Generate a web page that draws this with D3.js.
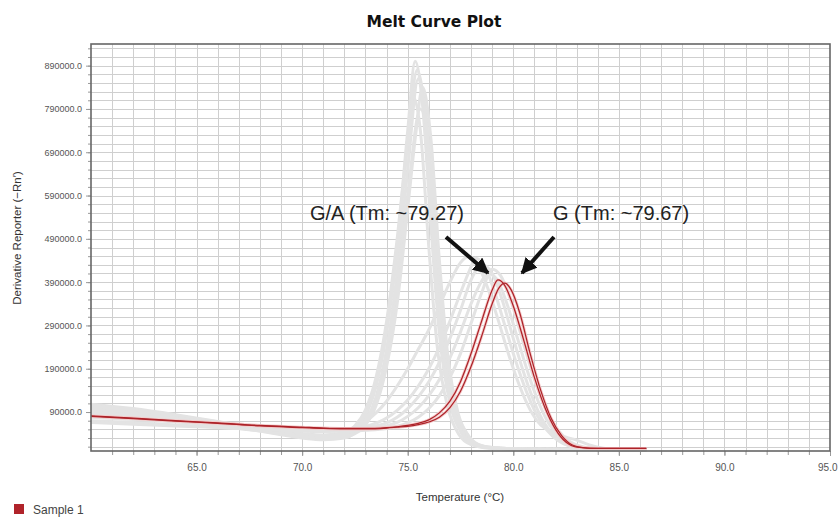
<!DOCTYPE html>
<html lang="en">
<head>
  <meta charset="UTF-8" />
  <title>Melt Curve Plot</title>
  <style>
    html, body { margin: 0; padding: 0; background: #fff; overflow: hidden; }
    svg { font-family: "Liberation Sans", Arial, sans-serif; }
    .grid line { stroke: #cfcfcf; stroke-width: 1; shape-rendering: crispEdges; }
    .axis path { display: none; }
    .axis line { stroke: #999; }
    .axis text { fill: #555; }
    .gray { fill: none; stroke: #e3e3e3; stroke-width: 3; }
    .red-halo { fill: none; stroke: #f4cccc; stroke-width: 3; }
    .red { fill: none; stroke: #ad2329; stroke-width: 1.25; }
  </style>
</head>
<body>
  <svg width="838" height="521"></svg>

  <script src="https://d3js.org/d3.v7.min.js"></script>
  <script>
    // values are derivative reporter in thousands
    const xLabelTicks = [65, 70, 75, 80, 85, 90, 95];
    const yLabelTicks = [90, 190, 290, 390, 490, 590, 690, 790, 890];

    const redGA = [[60,81],[62,76],[64,70],[66,65],[68,59],[70,55],[71,53],[72,52],[73,52],[74,54],[74.5,56],[75,59],[75.5,64],[76,72],[76.5,88],[77,115],[77.5,160],[78,225],[78.5,300],[79,372],[79.27,395],[79.6,382],[80,335],[80.5,255],[81,170],[81.5,100],[82,50],[82.5,20],[83,9],[84,6],[85,6],[86.3,6]];
    const redG = [[60,80],[62,75],[64,69],[66,64],[68,58],[70,54],[71,52],[72,51],[73,51],[74,53],[74.5,55],[75,57],[75.5,61],[76,67],[76.5,78],[77,100],[77.5,138],[78,195],[78.5,265],[79,340],[79.3,375],[79.6,388],[79.9,372],[80.3,320],[80.8,225],[81.3,140],[81.8,75],[82.3,35],[82.8,14],[83.3,8],[84,6],[85,6],[86.3,6]];

    const grayTall = [
      [[60,108],[62,98],[64,84],[66,68],[68,50],[70,34],[71,30],[72,36],[72.5,50],[73,82],[73.5,150],[74,275],[74.5,470],[75,740],[75.35,900],[75.7,800],[76.1,520],[76.5,270],[77,110],[77.5,45],[78,18],[79,7],[81,4],[86.3,3]],
      [[60,100],[62,90],[64,78],[66,62],[68,46],[70,30],[71,26],[72,30],[72.5,42],[73,68],[73.5,125],[74,235],[74.5,410],[75,650],[75.5,860],[75.9,760],[76.3,480],[76.7,240],[77.2,95],[77.7,38],[78.2,15],[79,7],[81,4],[86.3,3]],
      [[60,92],[62,84],[64,74],[66,62],[68,50],[70,40],[71,37],[72,42],[72.5,58],[73,95],[73.5,170],[74,300],[74.5,490],[75,720],[75.25,820],[75.6,740],[76,470],[76.4,240],[76.9,100],[77.4,40],[78,15],[79,6],[81,4],[86.3,3]],
      [[60,104],[62,95],[64,82],[66,67],[68,52],[70,38],[71,33],[72,35],[72.5,45],[73,70],[73.5,120],[74,215],[74.5,370],[75,590],[75.6,790],[76,700],[76.4,450],[76.8,230],[77.3,95],[77.8,40],[78.3,16],[79,8],[81,4],[86.3,3]],
      [[60,96],[62,88],[64,77],[66,64],[68,51],[70,39],[71,35],[72,39],[72.5,52],[73,85],[73.5,155],[74,280],[74.5,460],[75,710],[75.45,880],[75.8,790],[76.2,500],[76.6,255],[77.1,105],[77.6,42],[78.1,16],[79,7],[81,4],[86.3,3]],
      [[60,88],[62,80],[64,70],[66,58],[68,46],[70,34],[71,30],[72,32],[72.5,40],[73,60],[73.5,105],[74,195],[74.5,340],[75,560],[75.4,740],[75.7,840],[76.1,720],[76.5,440],[76.9,220],[77.4,85],[77.9,34],[78.4,14],[79,8],[81,4],[86.3,3]]
    ];

    const grayMid = [
      [[60,70],[62,66],[64,60],[66,55],[68,50],[70,46],[71,45],[72,48],[72.5,55],[73,68],[73.5,88],[74,115],[74.5,150],[75,190],[75.5,235],[76,280],[76.5,335],[77,390],[77.5,435],[77.9,450],[78.3,432],[78.8,375],[79.3,300],[79.8,220],[80.3,150],[80.8,95],[81.3,60],[81.8,45],[82.5,32],[83,25],[83.6,14],[84.2,7],[85,4],[86.3,3]],
      [[60,85],[62,80],[64,72],[66,65],[68,58],[70,52],[71,50],[72,50],[73,54],[74,65],[74.5,78],[75,98],[75.5,125],[76,160],[76.5,205],[77,260],[77.5,325],[78,395],[78.5,430],[79,410],[79.5,345],[80,260],[80.5,180],[81,112],[81.5,62],[82,32],[82.5,15],[83,8],[84,4],[86.3,3]],
      [[60,78],[62,73],[64,67],[66,61],[68,56],[70,51],[71,49],[72,49],[73,51],[74,58],[74.5,66],[75,80],[75.5,100],[76,128],[76.5,165],[77,215],[77.5,275],[78,340],[78.5,392],[78.8,410],[79.2,398],[79.7,340],[80.2,260],[80.7,180],[81.2,112],[81.7,62],[82.2,32],[82.7,15],[83.3,7],[84,4],[86.3,3]],
      [[60,90],[62,84],[64,75],[66,66],[68,57],[70,49],[71,46],[72,47],[73,56],[74,76],[74.5,94],[75,118],[75.5,150],[76,190],[76.5,240],[77,300],[77.5,365],[78,425],[78.2,445],[78.6,430],[79.1,370],[79.6,290],[80.1,210],[80.6,140],[81.1,85],[81.6,48],[82.1,25],[82.7,11],[83.5,5],[86.3,3]],
      [[60,66],[62,62],[64,58],[66,54],[68,50],[70,47],[71,46],[72,46],[73,48],[74,52],[74.5,57],[75,65],[75.5,78],[76,98],[76.5,128],[77,170],[77.5,225],[78,295],[78.5,365],[79,420],[79.4,405],[79.9,345],[80.4,262],[80.9,180],[81.4,112],[81.9,64],[82.4,33],[82.9,16],[83.5,8],[84.3,4],[86.3,3]]
    ];

    const svg = d3.select("svg");
    const plotLeft = 91, plotRight = 830, plotTop = 44, plotBottom = 451;

    const x = d3.scaleLinear().domain([60, 95]).range([plotLeft, plotRight]);
    const y = d3.scaleLinear().domain([0, 940]).range([plotBottom, plotTop]);

    // title
    svg.append("text")
      .attr("x", 434).attr("y", 27)
      .attr("text-anchor", "middle")
      .style("font-family", "'DejaVu Sans', Verdana, sans-serif")
      .style("font-weight", "bold")
      .style("font-size", "15.5px")
      .attr("fill", "#111")
      .text("Melt Curve Plot");

    // grid
    const grid = svg.append("g").attr("class", "grid");
    grid.selectAll(".vx")
      .data(d3.range(61, 95))
      .join("line")
      .attr("x1", d => Math.round(x(d)) + 0.5).attr("x2", d => Math.round(x(d)) + 0.5)
      .attr("y1", plotTop).attr("y2", plotBottom);
    grid.selectAll(".hy")
      .data(d3.range(10, 940, 20))
      .join("line")
      .attr("y1", d => Math.round(y(d)) + 0.5).attr("y2", d => Math.round(y(d)) + 0.5)
      .attr("x1", plotLeft).attr("x2", plotRight);

    // axes
    svg.append("g")
      .attr("class", "axis")
      .attr("transform", `translate(0,${plotBottom})`)
      .call(d3.axisBottom(x).tickValues(d3.range(61, 96)).tickSize(4).tickFormat(""));
    const xAxis = svg.append("g")
      .attr("class", "axis")
      .attr("transform", `translate(0,${plotBottom})`)
      .call(d3.axisBottom(x).tickValues(xLabelTicks).tickSize(5).tickPadding(8).tickFormat(d3.format(".1f")));
    xAxis.selectAll("text").style("font-size", "10px");
    // last label is pulled in so it stays inside the page
    xAxis.selectAll("text").filter(d => d === 95).attr("text-anchor", "end").attr("dx", 7);

    svg.append("g")
      .attr("class", "axis")
      .attr("transform", `translate(${plotLeft},0)`)
      .call(d3.axisLeft(y).tickValues(d3.range(10, 940, 20)).tickSize(3).tickFormat(""));
    svg.append("g")
      .attr("class", "axis")
      .attr("transform", `translate(${plotLeft},0)`)
      .call(d3.axisLeft(y).tickValues(yLabelTicks).tickSize(5).tickPadding(4).tickFormat(d => (d * 1000).toFixed(1)))
      .selectAll("text").style("font-size", "9px");

    // curves
    const line = d3.line()
      .x(d => x(d[0]))
      .y(d => y(d[1]))
      .curve(d3.curveMonotoneX);

    const plot = svg.append("g");
    plot.selectAll(".gray")
      .data(grayTall.concat(grayMid))
      .join("path")
      .attr("class", "gray")
      .attr("d", line);

    plot.selectAll(".red-halo")
      .data([redGA, redG])
      .join("path")
      .attr("class", "red-halo")
      .attr("d", line);
    plot.selectAll(".red")
      .data([redGA, redG])
      .join("path")
      .attr("class", "red")
      .attr("d", line);

    // frame
    svg.append("rect")
      .attr("x", plotLeft).attr("y", plotTop)
      .attr("width", plotRight - plotLeft).attr("height", plotBottom - plotTop)
      .attr("fill", "none")
      .attr("stroke", "#666")
      .attr("stroke-width", 1.6);

    // axis titles
    svg.append("text")
      .attr("x", 460).attr("y", 501)
      .attr("text-anchor", "middle")
      .style("font-size", "11.5px")
      .attr("fill", "#333")
      .text("Temperature (°C)");

    svg.append("text")
      .attr("transform", "translate(21,238) rotate(-90)")
      .attr("text-anchor", "middle")
      .style("font-size", "11.5px")
      .attr("fill", "#333")
      .text("Derivative Reporter (\u2212Rn\u2032)");

    // annotations
    svg.append("defs").append("marker")
      .attr("id", "head")
      .attr("viewBox", "0 0 10 10")
      .attr("refX", 9).attr("refY", 5)
      .attr("markerWidth", 4).attr("markerHeight", 4)
      .attr("markerUnits", "strokeWidth")
      .attr("orient", "auto")
      .append("path")
      .attr("d", "M0,0 L10,5 L0,10 Z")
      .attr("fill", "#111");

    const notes = [
      { text: "G/A (Tm: ~79.27)", tx: 310, ty: 220, x1: 446, y1: 237, x2: 488, y2: 273 },
      { text: "G (Tm: ~79.67)", tx: 553, ty: 220, x1: 554, y1: 237, x2: 522, y2: 273 }
    ];
    svg.selectAll(".note")
      .data(notes)
      .join("text")
      .attr("x", d => d.tx).attr("y", d => d.ty)
      .style("font-size", "20px")
      .attr("fill", "#222")
      .text(d => d.text);
    svg.selectAll(".arrow")
      .data(notes)
      .join("line")
      .attr("x1", d => d.x1).attr("y1", d => d.y1)
      .attr("x2", d => d.x2).attr("y2", d => d.y2)
      .attr("stroke", "#111")
      .attr("stroke-width", 4)
      .attr("marker-end", "url(#head)");

    // legend
    svg.append("rect")
      .attr("x", 14).attr("y", 504)
      .attr("width", 10).attr("height", 10)
      .attr("fill", "#b0232a");
    svg.append("text")
      .attr("x", 33).attr("y", 514)
      .style("font-size", "12px")
      .attr("fill", "#444")
      .text("Sample 1");
  </script>
</body>
</html>
